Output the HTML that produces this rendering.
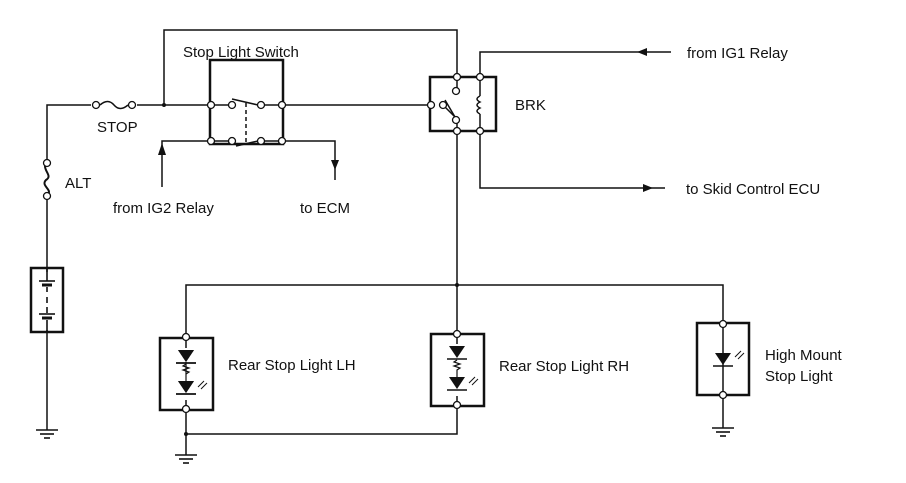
<!DOCTYPE html>
<html><head><meta charset="utf-8"><style>
html,body{margin:0;padding:0;background:#fff;}
svg{display:block;}
text{font-family:"Liberation Sans",Arial,sans-serif;font-size:15px;fill:#111;}
</style></head><body>
<svg width="906" height="483" viewBox="0 0 906 483" xmlns="http://www.w3.org/2000/svg">
<defs>
<g id="gnd" stroke="#111" stroke-width="1.6" fill="none">
<line x1="-11" y1="0" x2="11" y2="0"/><line x1="-7" y1="4" x2="7" y2="4"/><line x1="-3" y1="8" x2="3" y2="8"/>
</g>
<g id="led">
<polygon points="-8,0 8,0 0,12" fill="#111"/>
<line x1="-10" y1="13" x2="10" y2="13" stroke="#111" stroke-width="1.6"/>
</g>
<g id="rays" stroke="#111" stroke-width="1" fill="none">
<line x1="0" y1="6" x2="6" y2="0"/><line x1="3" y1="8" x2="9" y2="2"/>
</g>
</defs>
<g stroke="#111" stroke-width="1.5" fill="none">
<!-- top loop -->
<polyline points="164,105 164,30 457,30 457,77"/>
<!-- main line -->
<polyline points="47,160 47,105 91,105"/>
<path d="M100,105 q8,-7 14,0 t14,0"/>
<line x1="137" y1="105" x2="211" y2="105"/>
<line x1="282" y1="105" x2="431" y2="105"/>
<!-- switch box -->
<rect x="210" y="60" width="73" height="84" stroke-width="2.5"/>
<line x1="232" y1="99" x2="258" y2="105"/>
<line x1="236" y1="146" x2="258" y2="141"/>
<line x1="246" y1="103" x2="246" y2="143" stroke-dasharray="4,3"/>
<line x1="211" y1="105" x2="232" y2="105"/><line x1="261" y1="105" x2="282" y2="105"/>
<line x1="211" y1="141" x2="232" y2="141"/><line x1="261" y1="141" x2="282" y2="141"/>
<!-- IG2 / ECM -->
<polyline points="211,141 162,141 162,187"/>
<polyline points="282,141 335,141 335,180"/>
<!-- BRK -->
<rect x="430" y="77" width="66" height="54" stroke-width="2.5"/>
<line x1="457" y1="77" x2="457" y2="88"/>
<line x1="443" y1="105" x2="455" y2="117"/>
<line x1="445" y1="100" x2="455" y2="117"/>
<path d="M480,77 L480,96 M480,96 q-6,3 0,6 q-6,3 0,6 q-6,3 0,6 M480,114 L480,131"/>
<polyline points="480,77 480,52 671,52"/>
<polyline points="480,131 480,188 665,188"/>
<line x1="457" y1="123" x2="457" y2="285"/>
<!-- bottom distribution -->
<polyline points="186,336 186,285 723,285 723,323"/>
<line x1="457" y1="285" x2="457" y2="333"/>
<rect x="160" y="338" width="53" height="72" stroke-width="2.5"/>
<rect x="431" y="334" width="53" height="72" stroke-width="2.5"/>
<rect x="697" y="323" width="52" height="72" stroke-width="2.5"/>
<line x1="186" y1="336" x2="186" y2="409"/>
<line x1="457" y1="333" x2="457" y2="405"/>
<line x1="723" y1="323" x2="723" y2="395"/>
<polyline points="186,409 186,455"/>
<polyline points="186,434 457,434 457,405"/>
<line x1="723" y1="395" x2="723" y2="428"/>
<!-- left side -->
<line x1="47" y1="195" x2="47" y2="430"/>
<rect x="31" y="268" width="32" height="64" stroke-width="2.5"/>
<path d="M47,160 C40,170 54,175 46,180 C40,186 54,190 47,195" stroke-width="2"/>
</g>
<!-- battery interior -->
<rect x="38" y="272" width="18" height="58" fill="#fff"/>
<g stroke="#111" stroke-width="1.6">
<line x1="47" y1="268" x2="47" y2="281"/>
<line x1="39" y1="281" x2="55" y2="281"/><line x1="42" y1="285" x2="52" y2="285" stroke-width="3"/>
<line x1="47" y1="287" x2="47" y2="292"/><line x1="47" y1="297" x2="47" y2="303"/><line x1="47" y1="307" x2="47" y2="313"/>
<line x1="39" y1="314" x2="55" y2="314"/><line x1="42" y1="318" x2="52" y2="318" stroke-width="3"/>
<line x1="47" y1="320" x2="47" y2="332"/>
</g>
<!-- grounds -->
<use href="#gnd" x="47" y="430"/>
<use href="#gnd" x="186" y="455"/>
<use href="#gnd" x="723" y="428"/>
<!-- LEDs -->
<rect x="176" y="348" width="20" height="52" fill="#fff"/>
<use href="#led" x="186" y="350"/>
<path d="M186,364 l-3,2 6,2 -6,2 6,2 -3,2" stroke="#111" stroke-width="1.2" fill="none"/>
<use href="#led" x="186" y="381"/><use href="#rays" x="198" y="381"/>
<line x1="186" y1="362" x2="186" y2="381" stroke="#111" stroke-width="1.2"/>
<use href="#led" x="186" y="350"/>
<use href="#led" x="186" y="381"/>
<rect x="447" y="344" width="20" height="52" fill="#fff"/>
<line x1="457" y1="362" x2="457" y2="378" stroke="#111" stroke-width="1.2"/>
<use href="#led" x="457" y="346"/>
<rect x="452" y="361" width="10" height="15" fill="#fff"/>
<path d="M457,360 l-3,2 6,2 -6,2 6,2 -3,2 0,6" stroke="#111" stroke-width="1.2" fill="none"/>
<use href="#led" x="457" y="377"/><use href="#rays" x="469" y="377"/>
<use href="#led" x="723" y="353"/><use href="#rays" x="735" y="351"/>
<!-- arrows -->
<g fill="#111">
<polygon points="162,143 158,155 166,155"/>
<polygon points="335,170 331,160 339,160"/>
<polygon points="637,52 647,48 647,56"/>
<polygon points="653,188 643,184 643,192"/>
</g>
<!-- nodes -->
<g fill="#fff" stroke="#111" stroke-width="1.3">
<circle cx="96" cy="105" r="3.5"/><circle cx="132" cy="105" r="3.5"/>
<circle cx="211" cy="105" r="3.5"/><circle cx="232" cy="105" r="3.5"/><circle cx="261" cy="105" r="3.5"/><circle cx="282" cy="105" r="3.5"/>
<circle cx="211" cy="141" r="3.5"/><circle cx="232" cy="141" r="3.5"/><circle cx="261" cy="141" r="3.5"/><circle cx="282" cy="141" r="3.5"/>
<circle cx="457" cy="77" r="3.5"/><circle cx="480" cy="77" r="3.5"/><circle cx="457" cy="131" r="3.5"/><circle cx="480" cy="131" r="3.5"/>
<circle cx="431" cy="105" r="3.5"/><circle cx="443" cy="105" r="3.5"/><circle cx="456" cy="91" r="3.5"/><circle cx="456" cy="120" r="3.5"/>
<circle cx="47" cy="163" r="3.5"/><circle cx="47" cy="196" r="3.5"/>
<circle cx="186" cy="337" r="3.5"/><circle cx="186" cy="409" r="3.5"/>
<circle cx="457" cy="334" r="3.5"/><circle cx="457" cy="405" r="3.5"/>
<circle cx="723" cy="324" r="3.5"/><circle cx="723" cy="395" r="3.5"/>
</g>
<g fill="#111"><circle cx="164" cy="105" r="2"/><circle cx="457" cy="285" r="2"/><circle cx="186" cy="434" r="2"/></g>
<!-- labels -->
<text x="183" y="57">Stop Light Switch</text>
<text x="97" y="132">STOP</text>
<text x="65" y="188">ALT</text>
<text x="113" y="213">from IG2 Relay</text>
<text x="300" y="213">to ECM</text>
<text x="515" y="110">BRK</text>
<text x="687" y="58">from IG1 Relay</text>
<text x="686" y="194">to Skid Control ECU</text>
<text x="228" y="370">Rear Stop Light LH</text>
<text x="499" y="371">Rear Stop Light RH</text>
<text x="765" y="360">High Mount</text>
<text x="765" y="381">Stop Light</text>
</svg>
</body></html>
